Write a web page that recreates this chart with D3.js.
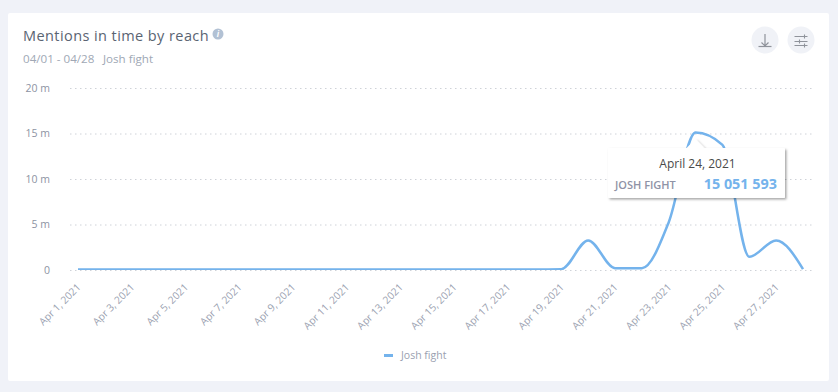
<!DOCTYPE html>
<html>
<head>
<meta charset="utf-8">
<script src="https://cdn.jsdelivr.net/npm/d3@7"></script>
<style>
  html, body { margin: 0; padding: 0; background: #f0f2f8; }
  svg { display: block; font-family: "Open Sans", sans-serif; }
</style>
</head>
<body>
<svg id="chart" width="838" height="392"></svg>
<script>
// Mentions in time by reach
const days = ["Apr 1, 2021", "Apr 2, 2021", "Apr 3, 2021", "Apr 4, 2021", "Apr 5, 2021", "Apr 6, 2021", "Apr 7, 2021",
  "Apr 8, 2021", "Apr 9, 2021", "Apr 10, 2021", "Apr 11, 2021", "Apr 12, 2021", "Apr 13, 2021", "Apr 14, 2021",
  "Apr 15, 2021", "Apr 16, 2021", "Apr 17, 2021", "Apr 18, 2021", "Apr 19, 2021", "Apr 20, 2021", "Apr 21, 2021",
  "Apr 22, 2021", "Apr 23, 2021", "Apr 24, 2021", "Apr 25, 2021", "Apr 26, 2021", "Apr 27, 2021", "Apr 28, 2021"];
const reach = [0, 0, 0, 0, 0, 0, 0, 0, 0, 0, 0, 0, 0, 0, 0, 0, 0, 0, 40000, 3200000, 150000, 150000, 5200000, 15051593,
  13700000, 1400000, 3200000, 50000];
const dayTicks = days.filter((d, i) => i % 2 === 0);
const yTicks = [0, 5000000, 10000000, 15000000, 20000000];
const seriesName = "Josh fight";

const svg = d3.select("#chart");
const defs = svg.append("defs");

svg.append("rect")
  .attr("x", 8).attr("y", 13)
  .attr("width", 821).attr("height", 368)
  .attr("rx", 2)
  .style("fill", "#fff");

// Heading
svg.append("text")
  .attr("x", 23).attr("y", 41)
  .style("font-size", "14.5px")
  .style("letter-spacing", "0.42px")
  .style("fill", "#5a6472")
  .text("Mentions in time by reach");

svg.append("circle").attr("cx", 218).attr("cy", 34).attr("r", 5.5).style("fill", "#b2c1d4");
svg.append("text")
  .attr("x", 218).attr("y", 37)
  .attr("text-anchor", "middle")
  .style("font-size", "8px")
  .style("font-weight", "700")
  .style("font-style", "italic")
  .style("fill", "#fff")
  .text("i");

svg.append("text")
  .attr("x", 23).attr("y", 63)
  .style("font-size", "11.6px")
  .style("fill", "#a0a8b5")
  .text("04/01 - 04/28");
svg.append("text")
  .attr("x", 103).attr("y", 63)
  .style("font-size", "11.6px")
  .style("fill", "#a0a8b5")
  .text(seriesName);

// Buttons
svg.selectAll(".btn")
  .data([765, 801])
  .enter().append("circle")
  .attr("class", "btn")
  .attr("cx", d => d).attr("cy", 40).attr("r", 13.5)
  .style("fill", "#f0f2f7");

const download = svg.append("g").style("stroke", "#8f939b").style("fill", "none");
download.append("path").attr("d", "M765 34V45.5M761.5 42.5L765 46L768.5 42.5").style("stroke-width", 1.2);
download.append("path").attr("d", "M758.500 46.500H771.500").style("stroke-width", 1.2);

const sliders = svg.append("g").style("stroke", "#8f939b").style("stroke-width", 1.1).style("fill", "none");
sliders.append("path").attr("d", "M794.500 36.500H807.500M794.500 41.500H807.500M794.500 45.500H807.500");
sliders.append("path").attr("d", "M804.500 34.500V38.500M799.500 39.500V43.500M804.500 43.500V47.500");

// Chart
const x = d3.scalePoint().domain(days).range([78, 803]);
const y = d3.scaleLinear().domain([0, 20000000]).range([270.5, 88.5]);

const grid = svg.append("g");
grid.selectAll("line")
  .data(yTicks)
  .enter().append("line")
  .attr("x1", 70).attr("x2", 812)
  .attr("y1", d => y(d)).attr("y2", d => y(d))
  .style("stroke", "#cfd2d8")
  .style("stroke-width", 1)
  .style("stroke-dasharray", "1.5 3.5");

const yAxis = svg.append("g")
  .attr("transform", "translate(50,-0.5)")
  .call(d3.axisLeft(y)
    .tickValues(yTicks)
    .tickSize(0)
    .tickFormat(d => d === 0 ? "0" : (d / 1000000) + " m"));
yAxis.select(".domain").remove();
yAxis.selectAll("text")
  .attr("x", 0)
  .attr("text-anchor", "end")
  .style("font-family", "'Open Sans', sans-serif")
  .style("font-size", "10.5px")
  .style("fill", "#8d93a3");

const xAxis = svg.append("g")
  .attr("transform", "translate(0,269.5)")
  .call(d3.axisBottom(x).tickValues(dayTicks).tickSize(0));
xAxis.select(".domain").remove();
xAxis.selectAll("text")
  .attr("x", -11).attr("y", 11.5).attr("dy", "0.35em")
  .attr("transform", "rotate(-45)")
  .attr("text-anchor", "end")
  .style("font-family", "'Open Sans', sans-serif")
  .style("font-size", "10.2px")
  .style("fill", "#9a9fb0");

const line = d3.line()
  .x((d, i) => x(days[i]))
  .y(d => y(d) - 1)
  .curve(d3.curveMonotoneX);

// the zero stretch sits half under the plot edge, so clip it there
defs.append("clipPath").attr("id", "plotClip")
  .append("rect")
  .attr("x", 60).attr("y", 80)
  .attr("width", 760).attr("height", 190);

svg.append("path")
  .datum(reach)
  .attr("d", line)
  .attr("clip-path", "url(#plotClip)")
  .style("fill", "none")
  .style("stroke", "#74b3ec")
  .style("stroke-width", 2.5);

// Legend
svg.append("rect")
  .attr("x", 384).attr("y", 354)
  .attr("width", 9).attr("height", 3)
  .style("fill", "#74b3ec");
svg.append("text")
  .attr("x", 401).attr("y", 359)
  .style("font-size", "10.5px")
  .style("fill", "#9a9fb0")
  .text(seriesName);

// Tooltip
const shadow = defs.append("filter").attr("id", "tipShadow")
  .attr("x", "-10%").attr("y", "-20%").attr("width", "120%").attr("height", "150%");
shadow.append("feDropShadow")
  .attr("dx", 1.5).attr("dy", 1.5).attr("stdDeviation", 1)
  .attr("flood-color", "#000").attr("flood-opacity", 0.35);

const peak = reach.indexOf(d3.max(reach));
const tipX = x(days[peak]);
const tip = svg.append("g");
tip.append("path")
  .attr("d", `M${tipX - 9} 148L${tipX} 139L${tipX + 9} 148Z`)
  .style("fill", "#fff")
  .style("filter", "url(#tipShadow)");
tip.append("rect")
  .attr("x", 608).attr("y", 148)
  .attr("width", 177).attr("height", 50)
  .attr("rx", 1)
  .style("fill", "#fff")
  .style("filter", "url(#tipShadow)");
tip.append("path")
  .attr("d", `M${tipX - 9} 149L${tipX} 140L${tipX + 9} 149Z`)
  .style("fill", "#fff");
tip.append("text")
  .attr("x", 697.5).attr("y", 168)
  .attr("text-anchor", "middle")
  .style("font-size", "12px")
  .style("fill", "#4a4a4a")
  .text("April 24, 2021");
tip.append("text")
  .attr("x", 615).attr("y", 189)
  .style("font-size", "11px")
  .style("font-weight", "600")
  .style("fill", "#8f93a6")
  .text(seriesName.toUpperCase());
tip.append("text")
  .attr("x", 777).attr("y", 189)
  .attr("text-anchor", "end")
  .style("font-size", "14.4px")
  .style("font-weight", "700")
  .style("fill", "#74b3ec")
  .text(d3.format(",")(reach[peak]).replace(/,/g, " "));
</script>
</body>
</html>
